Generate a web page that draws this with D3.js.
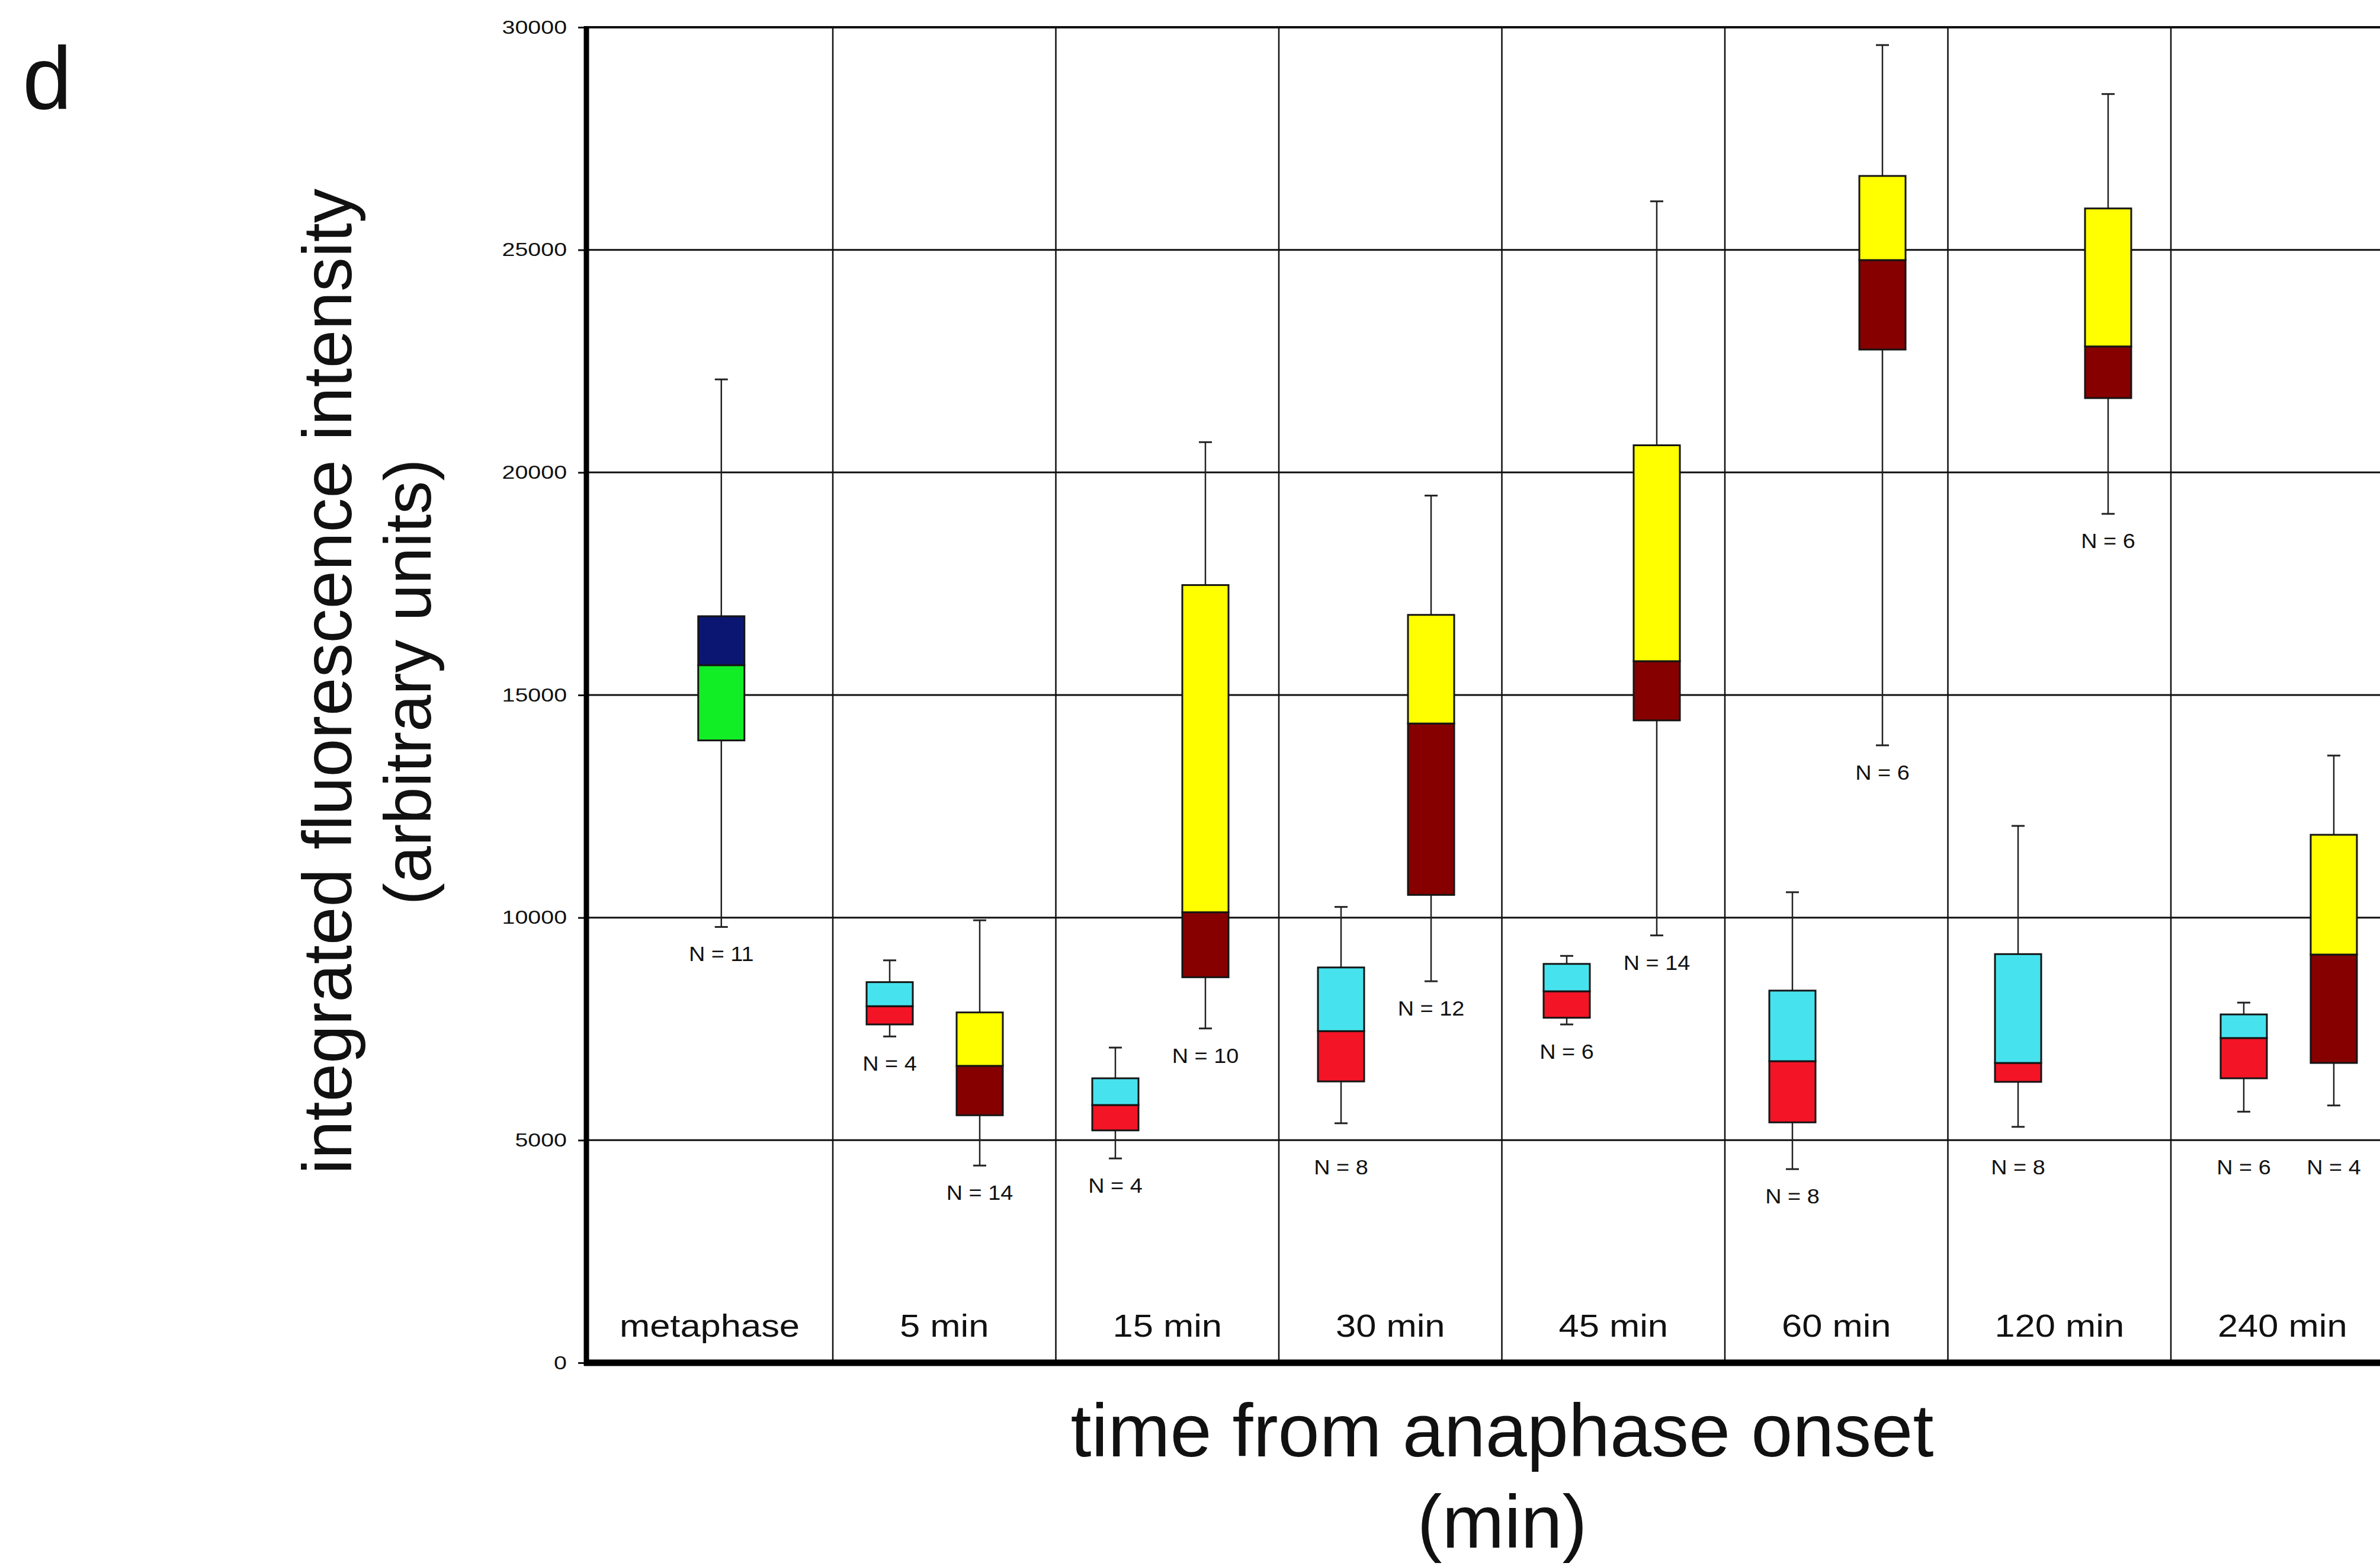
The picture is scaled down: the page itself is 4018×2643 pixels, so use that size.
<!DOCTYPE html>
<html>
<head>
<meta charset="utf-8">
<script src="https://cdn.jsdelivr.net/npm/d3@7"></script>
<style>
  html, body { margin: 0; padding: 0; background: #fff; }
  svg { display: block; }
  text { font-family: "Liberation Sans", Arial, Helvetica, sans-serif; fill: #111; }
</style>
</head>
<body>
<svg id="chart" width="4018" height="2643"></svg>
<script>
// ---------- data ----------
const categories = ["metaphase", "5 min", "15 min", "30 min", "45 min", "60 min", "120 min", "240 min"];
const yTicks = [0, 5000, 10000, 15000, 20000, 25000, 30000];

const boxCategory = ["metaphase", "5 min", "5 min", "15 min", "15 min", "30 min", "30 min",
                     "45 min", "45 min", "60 min", "60 min", "120 min", "120 min", "240 min", "240 min"];
const boxSeries   = ["M", "A", "B", "A", "B", "A", "B", "A", "B", "A", "B", "A", "B", "A", "B"];
const whiskerLow  = [9790, 7330, 4430, 4590, 7510, 5380, 8570, 7600, 9600, 4350, 13870, 5300, 19070, 5640, 5780];
const quartile1   = [13980, 7600, 5560, 5220, 8660, 6320, 10510, 7750, 14430, 5400, 22760, 6310, 21670, 6390, 6735];
const medians     = [15670, 8010, 6670, 5790, 10120, 7450, 14360, 8345, 15760, 6775, 24770, 6735, 22830, 7295, 9170];
const quartile3   = [16770, 8550, 7870, 6390, 17470, 8880, 16800, 8960, 20610, 8360, 26660, 9180, 25930, 7825, 11860];
const whiskerHigh = [22090, 9040, 9940, 7080, 20680, 10240, 19480, 9140, 26090, 10570, 29600, 12060, 28500, 8090, 13640];
const nCounts     = [11, 4, 14, 4, 10, 8, 12, 6, 14, 8, 6, 8, 6, 6, 4];

const seriesKeys  = ["M", "A", "B"];
const lowerColors = ["#12ee26", "#f31426", "#860000"];
const upperColors = ["#0b1672", "#46e3ee", "#ffff00"];

// ---------- layout ----------
const W = 4018, H = 2643;
const axisX = 990;
const svg = d3.select("#chart");

const y = d3.scaleLinear().domain([0, 30000]).range([2300, 46]);
const col = d3.scaleBand().domain(categories).range([1029.5, 4041.5]);      // column dividers
const group = d3.scaleBand().domain(categories).range([1006.5, 4054.5]);    // pair centres
const sub = d3.scalePoint().domain(["A", "B"]).range([-76, 76]);
const lowerColor = d3.scaleOrdinal().domain(seriesKeys).range(lowerColors);
const upperColor = d3.scaleOrdinal().domain(seriesKeys).range(upperColors);

const boxes = boxCategory.map((c, i) => ({
  cat: c, series: boxSeries[i], wl: whiskerLow[i], q1: quartile1[i], med: medians[i],
  q3: quartile3[i], wh: whiskerHigh[i], n: nCounts[i]
}));
const countPerCat = d3.rollup(boxes, v => v.length, d => d.cat);
function boxX(d) {
  if (countPerCat.get(d.cat) === 1) return col(d.cat) + col.bandwidth() / 2;
  return group(d.cat) + group.bandwidth() / 2 + sub(d.series);
}

// ---------- grid ----------
const grid = svg.append("g");
grid.selectAll("line.h").data(yTicks.filter(t => t > 0)).join("line")
  .attr("x1", axisX).attr("x2", W)
  .attr("y1", d => y(d)).attr("y2", d => y(d))
  .attr("stroke", "#111").attr("stroke-width", d => d === 30000 ? 4 : 3);
grid.selectAll("line.v").data(categories.slice(1)).join("line")
  .attr("x1", d => col(d)).attr("x2", d => col(d))
  .attr("y1", y(30000)).attr("y2", y(0))
  .attr("stroke", "#111").attr("stroke-width", 2.5);

// ---------- boxes ----------
const boxW = 78, capW = 22;
const bg = svg.append("g").selectAll("g").data(boxes).join("g")
  .attr("transform", d => `translate(${boxX(d)},0)`);

bg.append("line").attr("x1", 0).attr("x2", 0)
  .attr("y1", d => y(d.wh)).attr("y2", d => y(d.q3))
  .attr("stroke", "#222").attr("stroke-width", 2.5);
bg.append("line").attr("x1", 0).attr("x2", 0)
  .attr("y1", d => y(d.q1)).attr("y2", d => y(d.wl))
  .attr("stroke", "#222").attr("stroke-width", 2.5);
bg.append("line").attr("x1", -capW / 2).attr("x2", capW / 2)
  .attr("y1", d => y(d.wh)).attr("y2", d => y(d.wh))
  .attr("stroke", "#222").attr("stroke-width", 3);
bg.append("line").attr("x1", -capW / 2).attr("x2", capW / 2)
  .attr("y1", d => y(d.wl)).attr("y2", d => y(d.wl))
  .attr("stroke", "#222").attr("stroke-width", 3);
bg.append("rect").attr("x", -boxW / 2).attr("width", boxW)
  .attr("y", d => y(d.med)).attr("height", d => y(d.q1) - y(d.med))
  .attr("fill", d => lowerColor(d.series)).attr("stroke", "#151515").attr("stroke-width", 3);
bg.append("rect").attr("x", -boxW / 2).attr("width", boxW)
  .attr("y", d => y(d.q3)).attr("height", d => y(d.med) - y(d.q3))
  .attr("fill", d => upperColor(d.series)).attr("stroke", "#151515").attr("stroke-width", 3);

// N labels: below lower whisker, pushed below a gridline if they would overlap it
const gridYs = yTicks.filter(t => t > 0).map(t => y(t));
function nLabelY(d) {
  let base = y(d.wl) + 58;
  for (const g of gridYs) {
    if (base - 26 - 12 < g && base + 8 > g) base = g + 58;
  }
  return base;
}
const nsx = 1.08;
bg.append("text")
  .attr("transform", d => `translate(0,${nLabelY(d)}) scale(${nsx},1)`)
  .attr("text-anchor", "middle").attr("font-size", 35)
  .text(d => `N = ${d.n}`);

// ---------- axes ----------
const yAxis = d3.axisLeft(y).tickValues(yTicks).tickSize(14).tickPadding(0).tickFormat(d3.format("d"));
const ya = svg.append("g").attr("transform", `translate(${axisX},0)`).call(yAxis);
ya.select(".domain").remove();
ya.selectAll(".tick line").attr("stroke", "#111").attr("stroke-width", 3);
const tsx = 1.23;
ya.selectAll(".tick text")
  .attr("font-size", 32).attr("font-family", "Liberation Sans, Arial, sans-serif").attr("fill", "#222")
  .attr("x", -33 / tsx).attr("transform", `scale(${tsx},1)`);

svg.append("line").attr("x1", axisX).attr("x2", axisX)
  .attr("y1", y(30000) - 2).attr("y2", y(0) + 5)
  .attr("stroke", "#000").attr("stroke-width", 9);
svg.append("line").attr("x1", axisX - 4).attr("x2", W)
  .attr("y1", y(0)).attr("y2", y(0))
  .attr("stroke", "#000").attr("stroke-width", 11);

// category labels (centred in their column; first column starts at the axis)
const csx = 1.16;
svg.append("g").selectAll("text").data(categories).join("text")
  .attr("transform", (d, i) => {
    const left = i === 0 ? axisX : col(d);
    const cx = (left + col(d) + col.bandwidth()) / 2;
    return `translate(${cx},2256) scale(${csx},1)`;
  })
  .attr("text-anchor", "middle").attr("font-size", 53)
  .text(d => d);

// axis titles
svg.append("text").attr("x", 2536).attr("y", 2458).attr("text-anchor", "middle")
  .attr("font-size", 126).text("time from anaphase onset");
svg.append("text").attr("x", 2536).attr("y", 2612).attr("text-anchor", "middle")
  .attr("font-size", 126).text("(min)");

svg.append("text").attr("transform", "translate(593,1150) rotate(-90)")
  .attr("text-anchor", "middle").attr("font-size", 116)
  .text("integrated fluorescence intensity");
svg.append("text").attr("transform", "translate(727,1151) rotate(-90)")
  .attr("text-anchor", "middle").attr("font-size", 112)
  .text("(arbitrary units)");

// panel letter
svg.append("text").attr("x", 38).attr("y", 184).attr("font-size", 150).text("d");
</script>
</body>
</html>
